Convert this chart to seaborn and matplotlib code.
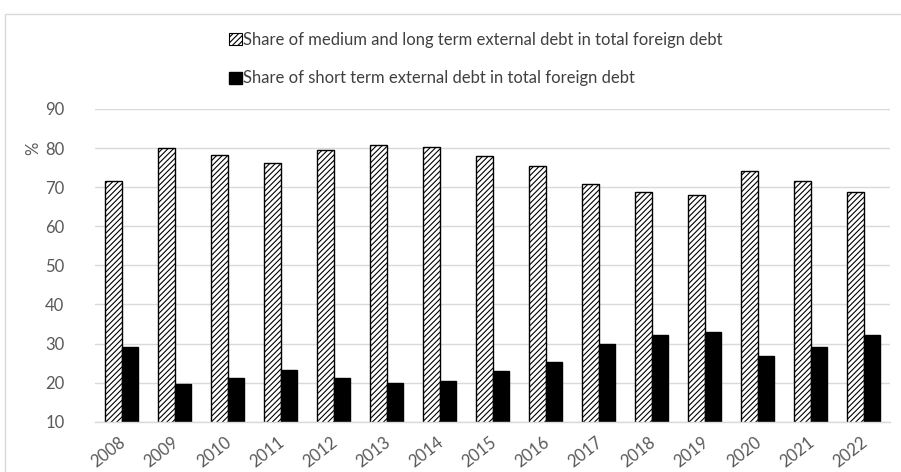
import matplotlib
matplotlib.use("Agg")
import matplotlib.pyplot as plt
import matplotlib.transforms as mtrans
import seaborn as sns
import pandas as pd
from matplotlib.patches import Patch, Rectangle

years = [str(y) for y in range(2008, 2023)]
medium_long = [71.5, 79.9, 78.3, 76.2, 79.5, 80.8, 80.4, 77.9, 75.4, 70.9, 68.7, 67.9, 74.1, 71.6, 68.7]
short_term = [29.2, 19.7, 21.3, 23.3, 21.3, 20.0, 20.5, 23.0, 25.4, 29.9, 32.2, 32.9, 26.7, 29.2, 32.2]
series_names = ["Share of medium and long term external debt in total foreign debt",
                "Share of short term external debt in total foreign debt"]
y_ticks = [10, 20, 30, 40, 50, 60, 70, 80, 90]

df = pd.DataFrame({
    "year": years * 2,
    "value": medium_long + short_term,
    "series": [series_names[0]] * len(years) + [series_names[1]] * len(years),
})

sns.set_theme(style="white")
plt.rcParams["font.family"] = ["Lato", "DejaVu Sans"]
plt.rcParams["hatch.linewidth"] = 0.8

W, H = 901, 472
fig = plt.figure(figsize=(W / 100, H / 100), dpi=100)
ax = fig.add_axes([95 / W, 1 - 421.7 / H, (890 - 95) / W, (421.7 - 109) / H])

sns.barplot(data=df, x="year", y="value", hue="series", hue_order=series_names,
            palette=["white", "black"], width=0.63, edgecolor="black",
            linewidth=1.0, legend=False, ax=ax)

n = len(years)
for p in ax.patches[:n]:
    p.set_hatch("//////")
    p.set_edgecolor("black")

ax.set_ylim(10, 90)
ax.set_xlim(-0.5, n - 0.5)
ax.set_yticks(y_ticks)
ax.set_yticklabels([str(t) for t in y_ticks])
ax.yaxis.grid(True, color="#d9d9d9", linewidth=1.0)
ax.set_axisbelow(True)
for s in ["top", "right", "left"]:
    ax.spines[s].set_visible(False)
ax.spines["bottom"].set_color("#d9d9d9")
ax.spines["bottom"].set_linewidth(1.0)
ax.tick_params(axis="y", length=0, pad=22, labelsize=12, labelcolor="#595959")
ax.tick_params(axis="x", length=0, pad=9, labelsize=12, labelcolor="#595959")
offset = mtrans.ScaledTranslation(-3 / 100, 0, fig.dpi_scale_trans)
for lab in ax.get_xticklabels():
    lab.set_rotation(38)
    lab.set_ha("right")
    lab.set_va("top")
    lab.set_rotation_mode("anchor")
    lab.set_transform(lab.get_transform() + offset)
ax.set_xlabel("")
ax.set_ylabel("")

fig.text(33 / W, 1 - 148 / H, "%", rotation=90, ha="center", va="center",
         fontsize=12, color="#595959")

handles = [Patch(facecolor="white", edgecolor="black", hatch="//////", linewidth=0.8),
           Patch(facecolor="black", edgecolor="black")]
fig.legend(handles=handles, labels=series_names, loc="upper left",
           bbox_to_anchor=(214 / W, 1 - 17 / H), frameon=False, ncol=1,
           handlelength=0.75, handleheight=0.75, handletextpad=0.1,
           labelspacing=1.35, fontsize=12, labelcolor="#404040")

fig.patches.append(Rectangle((5 / W, -0.2), 1.2, 1.2 - 14 / H,
                             transform=fig.transFigure, fill=False,
                             edgecolor="#d9d9d9", linewidth=1.0))

fig.savefig("out.png", dpi=100)
